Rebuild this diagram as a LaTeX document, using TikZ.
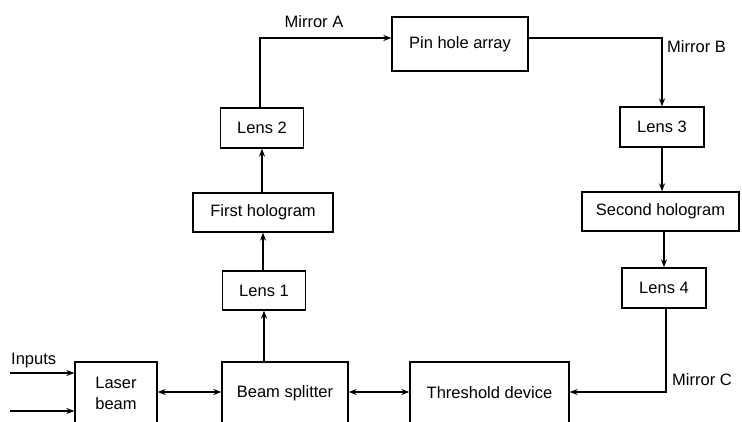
\documentclass[tikz,border=0pt]{standalone}
\usepackage{fontspec}
\setmainfont{Liberation Sans}
\usetikzlibrary{arrows.meta}
\begin{document}
\begin{tikzpicture}[x=1pt,y=-1pt,
  box/.style={draw,line width=1.3pt,inner sep=0pt,align=center,font=\fontsize{16.5}{21}\selectfont},
  lbl/.style={inner sep=0pt,font=\fontsize{16.5}{20}\selectfont},
  conn/.style={line width=1.3pt,-{Stealth[length=8pt,width=6pt]}},
  dconn/.style={line width=1.3pt,{Stealth[length=8pt,width=6pt]}-{Stealth[length=8pt,width=6pt]}}]
\useasboundingbox (0,0) rectangle (742,422);
\clip (0,0) rectangle (742,422);
\fill[white] (0,0) rectangle (742,422);
% boxes
\node[box,minimum width=136pt,minimum height=54pt] (pin) at (460,44) {Pin hole array};
\node[box,minimum width=83pt,minimum height=40pt] (lens2) at (262,128) {Lens 2};
\node[box,minimum width=140pt,minimum height=39pt] (first) at (263,212.5) {First hologram};
\node[box,minimum width=83pt,minimum height=39pt] (lens1) at (264,290.5) {Lens 1};
\node[box,minimum width=82pt,minimum height=62pt] (laser) at (116,393) {Laser\\beam};
\node[box,minimum width=126pt,minimum height=62pt] (split) at (285,393) {Beam splitter};
\node[box,minimum width=159pt,minimum height=62pt] (thresh) at (489.5,393) {Threshold device};
\node[box,minimum width=84pt,minimum height=40pt] (lens3) at (662,127) {Lens 3};
\node[box,minimum width=157pt,minimum height=39pt] (second) at (660.5,211.5) {Second hologram};
\node[box,minimum width=84pt,minimum height=40pt] (lens4) at (664,288) {Lens 4};
% coordinates
\coordinate (ma) at (260,38);
\coordinate (mb) at (662,38);
\coordinate (mc) at (666,392);
\coordinate (in1) at (10,373);
\coordinate (in2) at (10,411);
% labels
\node[lbl] (la) at (314,22) {Mirror A};
\node[lbl,anchor=west] (lb) at (667,47) {Mirror B};
\node[lbl,anchor=west] (lc) at (672,380) {Mirror C};
\node[lbl,anchor=west] (li) at (11,361) {Inputs};
% connectors
\draw[conn] (split.north -| lens1) -- (lens1.south);
\draw[conn] (lens1.north -| first) -- (first.south);
\draw[conn] (first.north -| lens2) -- (lens2.south);
\draw[conn] (lens2.north -| ma) -- (ma) -- (ma -| pin.west);
\draw[conn] (ma -| pin.east) -- (mb) -- (lens3.north -| mb);
\draw[conn] (lens3.south) -- (second.north -| lens3);
\draw[conn] (second.south -| lens4) -- (lens4.north);
\draw[conn] (lens4.south -| mc) -- (mc) -- (mc -| thresh.east);
\draw[dconn] (laser.east |- mc) -- (split.west |- mc);
\draw[dconn] (split.east |- mc) -- (thresh.west |- mc);
\draw[conn] (in1) -- (in1 -| laser.west);
\draw[conn] (in2) -- (in2 -| laser.west);
\end{tikzpicture}
\end{document}
